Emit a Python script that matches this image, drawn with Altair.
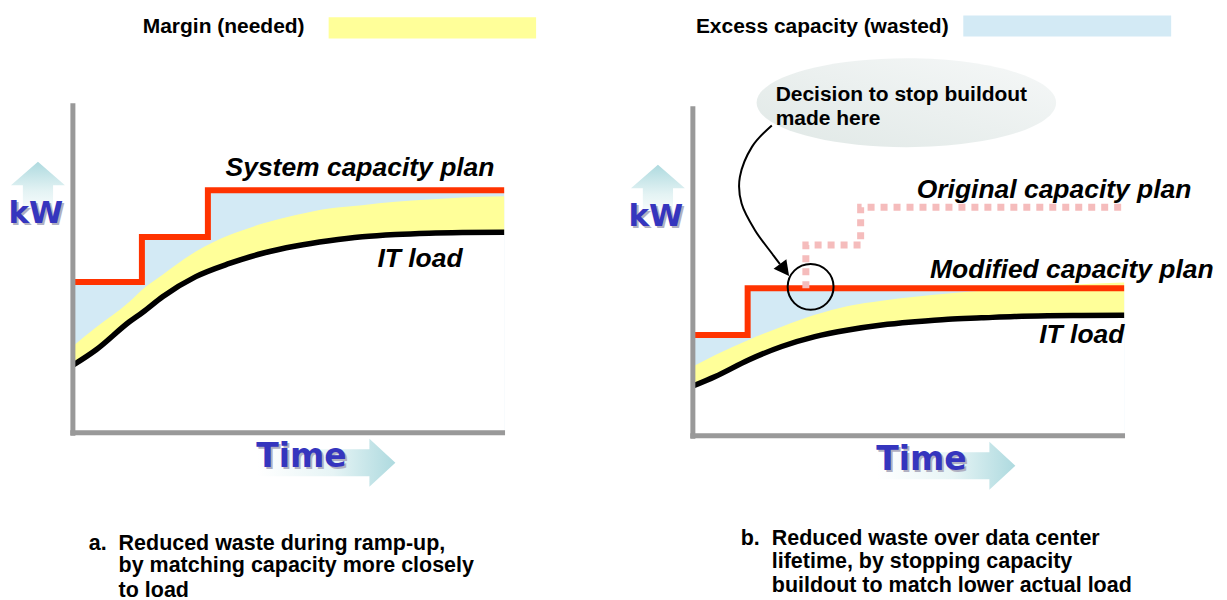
import altair as alt
import pandas as pd

# ---------------- data (time units 0..100, kW units 0..100) ----------------
# Panel a
a_time = [0, 5.4, 13.1, 16.2, 20.8, 28.5, 36.3, 44.0, 51.7, 59.4, 67.1, 74.8, 82.6, 90.3, 100]
a_load = [20.5, 25.2, 33.7, 36.6, 41.3, 47.4, 51.4, 54.5, 56.7, 58.3, 59.5, 60.2, 60.6, 60.8, 60.9]
a_margin_top = [26.3, 32.0, 39.8, 43.6, 48.0, 55.0, 60.0, 63.5, 66.1, 68.1, 69.1, 70.1, 70.8, 71.4, 71.8]
a_cap_time = [0, 16.0, 31.3, 100]
a_cap = [45.8, 59.4, 73.6, 73.6]

# Panel b
b_time = [0, 5.2, 12.9, 20.6, 28.3, 36.0, 43.8, 51.5, 59.2, 66.9, 74.6, 82.3, 90.0, 100]
b_load = [15.1, 18.0, 23.0, 27.1, 30.1, 32.1, 33.6, 34.6, 35.4, 35.8, 36.2, 36.4, 36.5, 36.6]
b_margin_top = [21.0, 24.5, 29.1, 33.1, 36.7, 39.4, 41.0, 42.2, 43.2, 44.0, 44.8, 45.5, 46.0, 46.5]
b_cap_time = [0, 12.7, 100]
b_cap = [30.6, 44.8, 44.8]
b_orig_time = [26.2, 26.2, 38.9, 38.9, 100]
b_orig_cap = [44.8, 57.9, 57.9, 69.4, 69.4]

# Texts
legend_a = "Margin (needed)"
legend_b = "Excess capacity (wasted)"
label_a_plan = "System capacity plan"
label_load = "IT load"
label_b_orig = "Original capacity plan"
label_b_mod = "Modified capacity plan"
bubble_lines = ["Decision to stop buildout", "made here"]
caption_a = ["Reduced waste during ramp-up,", "by matching capacity more closely", "to load"]
caption_b = ["Reduced waste over data center", "lifetime, by stopping capacity", "buildout to match lower actual load"]

# Arrow path from bubble to decision point (time, kW)
arrow_t = [18.3, 13.7, 10.9, 11.3, 14.4, 18.3, 20.2]
arrow_k = [94.2, 87.7, 78.6, 70.5, 62.4, 55.4, 52.1]

# ---------------- style ----------------
BLUE = "#D3EAF5"
YELLOW = "#FFFF99"
RED = "#FF3300"
GREY = "#999999"
PINK = "#F5BCBC"
WORD_BLUE = "#3535BE"
SHADOW = "#B0B0C2"
FONT = "Liberation Sans, Arial, Helvetica, sans-serif"
WORDART = "DejaVu Sans, Verdana, sans-serif"

W, H = 605, 590
PX_T, PX_K = 4.32, 3.3

UP_ARROW = "M0,-1L1,-0.13L0.56,-0.13L0.56,1L-0.56,1L-0.56,-0.13L-1,-0.13Z"
RIGHT_ARROW = "M-1,-0.196L0.623,-0.196L0.623,-0.348L1,0L0.623,0.348L0.623,0.196L-1,0.196Z"
ELLIPSE = "M-1,0A1,0.297,0,1,0,1,0A1,0.297,0,1,0,-1,0Z"
HEAD = "M0,1L-1,-0.9L1,-0.9Z"

up_grad = alt.LinearGradient(
    gradient="linear", x1=0, y1=0, x2=0, y2=1,
    stops=[alt.GradientStop(color="#AEDADF", offset=0),
           alt.GradientStop(color="#E4F3F4", offset=0.55),
           alt.GradientStop(color="#FFFFFF", offset=1)])
right_grad = alt.LinearGradient(
    gradient="linear", x1=0, y1=0, x2=1, y2=0,
    stops=[alt.GradientStop(color="#FFFFFF", offset=0),
           alt.GradientStop(color="#E6F4F5", offset=0.55),
           alt.GradientStop(color="#AEDADF", offset=1)])
bubble_grad = alt.LinearGradient(
    gradient="linear", x1=0, y1=1, x2=1, y2=0,
    stops=[alt.GradientStop(color="#E0E8E6", offset=0),
           alt.GradientStop(color="#F6F8F8", offset=1)])


def panel(ox, oy, time, load, margin, cap_t, cap, legend_text, legend_pos, legend_color,
          plan_labels, load_label_pos, caption_letter, caption_lines, caption_pos, extra=None):
    xs = alt.Scale(domain=[-ox / PX_T, (W - ox) / PX_T], nice=False, zero=False)
    ys = alt.Scale(domain=[-(H - oy) / PX_K, oy / PX_K], nice=False, zero=False)

    def X(f="t"):
        return alt.X(f"{f}:Q", scale=xs, axis=None)

    def Y(f="k"):
        return alt.Y(f"{f}:Q", scale=ys, axis=None)

    curves = pd.DataFrame({"t": time, "load": load, "margin": margin})
    capdf = pd.DataFrame({"t": cap_t, "k": cap})

    layers = []
    layers.append(alt.Chart(capdf).mark_area(interpolate="step-after", color=BLUE, opacity=1)
                  .encode(x=X(), y=Y(), y2=alt.datum(0)))
    layers.append(alt.Chart(curves).mark_area(interpolate="monotone", color="white", opacity=1)
                  .encode(x=X(), y=Y("load"), y2=alt.datum(0)))
    layers.append(alt.Chart(curves).mark_area(interpolate="monotone", color=YELLOW, opacity=1)
                  .encode(x=X(), y=Y("margin"), y2="load:Q"))
    layers.append(alt.Chart(curves).mark_line(interpolate="monotone", color="black", strokeWidth=5.5)
                  .encode(x=X(), y=Y("load")))
    layers.append(alt.Chart(capdf).mark_line(interpolate="step-after", color=RED, strokeWidth=6,
                                             strokeJoin="miter", strokeCap="butt")
                  .encode(x=X(), y=Y()))

    if extra is not None:
        layers.extend(extra(X, Y))

    # axes
    axes = pd.DataFrame({"t": [0, -0.6], "k": [-0.9, 0], "t2": [0, 100.2], "k2": [100, 0]})
    layers.append(alt.Chart(axes).mark_rule(color=GREY, strokeWidth=5)
                  .encode(x=X(), y=Y(), x2="t2:Q", y2="k2:Q"))

    # italic labels
    lab = pd.DataFrame([dict(label=s, t=p[0], k=p[1]) for s, p in plan_labels] +
                       [dict(label=label_load, t=load_label_pos[0], k=load_label_pos[1])])
    layers.append(alt.Chart(lab).mark_text(font=FONT, fontSize=26.5, fontWeight="bold",
                                           fontStyle="italic", align="left", baseline="alphabetic",
                                           color="black")
                  .encode(x=X(), y=Y(), text="label:N"))

    # legend
    lt, lk, rt0, rt1, rk0, rk1 = legend_pos
    layers.append(alt.Chart(pd.DataFrame({"t": [rt0], "t2": [rt1], "k": [rk0], "k2": [rk1]}))
                  .mark_rect(color=legend_color, opacity=1)
                  .encode(x=X(), x2="t2:Q", y=Y(), y2="k2:Q"))
    layers.append(alt.Chart(pd.DataFrame({"label": [legend_text], "t": [lt], "k": [lk]}))
                  .mark_text(font=FONT, fontSize=21, fontWeight="bold", align="left",
                             baseline="alphabetic", color="black")
                  .encode(x=X(), y=Y(), text="label:N"))

    # kW arrow + word
    layers.append(alt.Chart(pd.DataFrame({"t": [-8.1], "k": [74.1]}))
                  .mark_point(shape=UP_ARROW, size=2916, filled=True, fill=up_grad,
                              strokeWidth=0, opacity=1)
                  .encode(x=X(), y=Y()))
    kw = pd.DataFrame({"label": ["kW"], "t": [-8.6], "k": [63.6]})
    layers.append(alt.Chart(kw).mark_text(font=WORDART, fontSize=31, fontWeight="bold",
                                          baseline="alphabetic", color=SHADOW, dx=2, dy=2)
                  .encode(x=X(), y=Y(), text="label:N"))
    layers.append(alt.Chart(kw).mark_text(font=WORDART, fontSize=31, fontWeight="bold",
                                          baseline="alphabetic", color=WORD_BLUE)
                  .encode(x=X(), y=Y(), text="label:N"))

    # Time arrow + word
    layers.append(alt.Chart(pd.DataFrame({"t": [58.8], "k": [-9.1]}))
                  .mark_point(shape=RIGHT_ARROW, size=19044, filled=True, fill=right_grad,
                              strokeWidth=0, opacity=1)
                  .encode(x=X(), y=Y()))
    tm = pd.DataFrame({"label": ["Time"], "t": [53.0], "k": [-10.3]})
    layers.append(alt.Chart(tm).mark_text(font=WORDART, fontSize=33, fontWeight="bold",
                                          baseline="alphabetic", color=SHADOW, dx=2, dy=2)
                  .encode(x=X(), y=Y(), text="label:N"))
    layers.append(alt.Chart(tm).mark_text(font=WORDART, fontSize=33, fontWeight="bold",
                                          baseline="alphabetic", color=WORD_BLUE)
                  .encode(x=X(), y=Y(), text="label:N"))

    # caption
    ct_letter, ct_text, ck = caption_pos
    rows = [dict(label=caption_letter, t=ct_letter, k=ck[0])]
    rows += [dict(label=s, t=ct_text, k=ck[i]) for i, s in enumerate(caption_lines)]
    layers.append(alt.Chart(pd.DataFrame(rows))
                  .mark_text(font=FONT, fontSize=21.5, fontWeight="bold", align="left",
                             baseline="alphabetic", color="black")
                  .encode(x=X(), y=Y(), text="label:N"))

    return alt.layer(*layers).properties(width=W, height=H)


def extra_b(X, Y):
    out = []
    orig = pd.DataFrame({"t": b_orig_time, "k": b_orig_cap, "i": range(len(b_orig_time))})
    out.append(alt.Chart(orig).mark_line(color=PINK, strokeWidth=7, strokeDash=[7, 6],
                                         strokeCap="butt", strokeJoin="miter")
               .encode(x=X(), y=Y(), order="i:Q"))
    out.append(alt.Chart(pd.DataFrame({"t": [27.3], "k": [45.2]}))
               .mark_point(shape="circle", size=2116, filled=False, stroke="black",
                           strokeWidth=2, opacity=1)
               .encode(x=X(), y=Y()))
    out.append(alt.Chart(pd.DataFrame({"t": [49.5], "k": [101.1]}))
               .mark_point(shape=ELLIPSE, size=90000, filled=True, fill=bubble_grad,
                           strokeWidth=0, opacity=1)
               .encode(x=X(), y=Y()))
    bub = pd.DataFrame({"label": bubble_lines, "t": [19.2, 19.2], "k": [101.6, 94.2]})
    out.append(alt.Chart(bub).mark_text(font=FONT, fontSize=21, fontWeight="bold", align="left",
                                        baseline="alphabetic", color="black")
               .encode(x=X(), y=Y(), text="label:N"))
    arr = pd.DataFrame({"t": arrow_t, "k": arrow_k, "i": range(len(arrow_t))})
    out.append(alt.Chart(arr).mark_line(interpolate="cardinal", color="black", strokeWidth=2)
               .encode(x=X(), y=Y(), order="i:Q"))
    out.append(alt.Chart(pd.DataFrame({"t": [21.2], "k": [50.4]}))
               .mark_point(shape=HEAD, size=256, filled=True, fill="black", strokeWidth=0,
                           angle=323, opacity=1)
               .encode(x=X(), y=Y()))
    return out


left = panel(62, 425, a_time, a_load, a_margin_top, a_cap_time, a_cap,
             legend_a, (16.2, 121.2, 59.3, 107.4, 126.1, 119.7), YELLOW,
             [(label_a_plan, (35.4, 77.9))], (70.6, 50.4),
             "a.", caption_a, (3.7, 10.6, [-35.5, -42.4, -49.7]))

right = panel(78, 428, b_time, b_load, b_margin_top, b_cap_time, b_cap,
              legend_b, (0.7, 122.4, 62.7, 110.9, 127.6, 121.2), BLUE,
              [(label_b_orig, (51.9, 72.2)), (label_b_mod, (55.0, 47.9))], (80.3, 28.2),
              "b.", caption_b, (11.1, 18.3, [-33.0, -40.0, -47.3]), extra=extra_b)

chart = alt.hconcat(left, right, spacing=0, bounds="flush", padding=0).configure_view(stroke=None)

chart.save("out.html", embed_options={"renderer": "svg", "actions": False})
